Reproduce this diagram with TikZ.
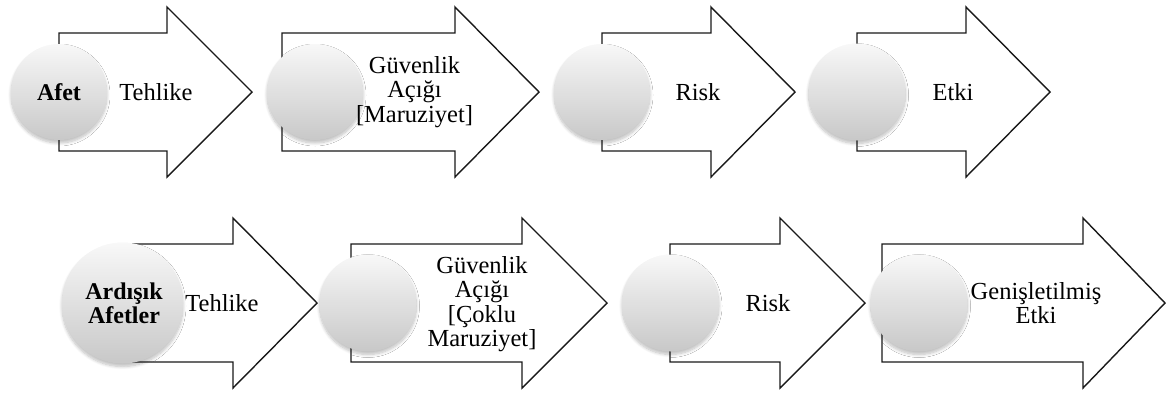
\documentclass[tikz,border=0pt]{standalone}
\usepackage{fontspec}
\setmainfont{Liberation Serif}
\usetikzlibrary{shadows.blur}
\definecolor{balltop}{RGB}{248,248,248}
\definecolor{ballbot}{RGB}{200,200,200}
\tikzset{
  arrowbox/.style={draw=black!90, line width=1.4pt, fill=white, line join=miter},
  ball/.style={circle, inner sep=0pt, top color=balltop, bottom color=ballbot,
    blur shadow={shadow xshift=0pt, shadow yshift=-3pt, shadow blur steps=8, shadow opacity=25, shadow blur radius=3pt}},
  lbl/.style={align=center, inner sep=0pt, font=\fontsize{24.5}{24.5}\selectfont},
  blbl/.style={align=center, inner sep=0pt, font=\fontsize{24}{24}\selectfont\bfseries},
}
\newcommand\barrow[4]{%
  \draw[arrowbox] (#1,#4+59) -- (#2,#4+59) -- (#2,#4+85) -- (#3,#4) -- (#2,#4-85) -- (#2,#4-59) -- (#1,#4-59) -- cycle;}
\begin{document}
\begin{tikzpicture}[x=1pt,y=-1pt]
\useasboundingbox (0,0) rectangle (1166,392);
% row 1 arrows
\barrow{59}{167}{252}{92}
\barrow{282}{455}{539}{92}
\barrow{602}{711}{795}{92}
\barrow{857}{966}{1050}{92}
% row 2 arrows
\barrow{123}{233}{317}{303}
\barrow{351}{522}{607}{303}
\barrow{670}{780}{865}{303}
\barrow{882}{1083}{1165}{303}
% row 1 circles
\node[ball, minimum size=96pt] (a1) at (59,92) {};
\node[blbl] (a1t) at (a1.center) {Afet};
\node[ball, minimum size=96pt] (a2) at (315,92) {};
\node[ball, minimum size=96pt] (a3) at (602,92) {};
\node[ball, minimum size=97pt] (a4) at (857,92) {};
% row 2 circles
\node[ball, minimum size=121pt] (b1) at (122.5,303) {};
\node[blbl] (b1t) at (124,303) {Ardışık\\Afetler};
\node[ball, minimum size=97pt] (b2) at (368,303) {};
\node[ball, minimum size=97pt] (b3) at (670.5,303) {};
\node[ball, minimum size=97pt] (b4) at (919,303) {};
% row 1 labels
\node[lbl] (t1) at (156,92) {Tehlike};
\node[lbl] (t2) at (414.5,92) {Güvenlik\\Açığı\\{[Maruziyet]}};
\node[lbl] (t3) at (698,92) {Risk};
\node[lbl] (t4) at (953,92) {Etki};
% row 2 labels
\node[lbl] (u1) at (222,303) {Tehlike};
\node[lbl] (u2) at (482,304) {Güvenlik\\Açığı\\{[Çoklu}\\Maruziyet]};
\node[lbl] (u3) at (768,303) {Risk};
\node[lbl] (u4) at (1036,303) {Genişletilmiş\\Etki};
\end{tikzpicture}
\end{document}
